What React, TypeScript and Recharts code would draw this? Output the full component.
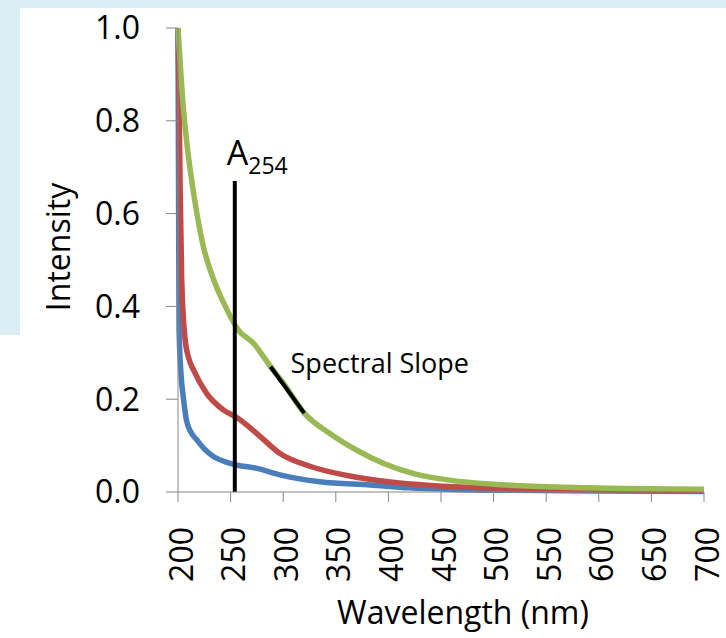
import React from "react";
import { LineChart, Line, XAxis, YAxis, ReferenceLine, ReferenceDot } from "recharts";

// wavelength ticks (nm) and intensity ticks
const xTicks = [200, 250, 300, 350, 400, 450, 500, 550, 600, 650, 700];
const yTicks = [0, 0.2, 0.4, 0.6, 0.8, 1.0];

// normalised absorbance spectra, three samples
const blueNm = [200, 201, 203, 205, 208, 212, 218, 225, 234, 245, 256, 275, 297, 335, 383, 420, 490, 600, 700];
const blueVals = [1.0, 0.35, 0.25, 0.205, 0.155, 0.13, 0.112, 0.093, 0.076, 0.065, 0.058, 0.051, 0.037, 0.022, 0.015, 0.009, 0.004, 0.002, 0.001];

const redNm = [200, 201, 202, 203.5, 206.7, 210, 215, 227, 243, 257, 275, 297, 326, 367, 400, 440, 490, 560, 700];
const redVals = [1.0, 0.85, 0.66, 0.46, 0.33, 0.29, 0.262, 0.213, 0.177, 0.159, 0.126, 0.083, 0.055, 0.033, 0.022, 0.014, 0.009, 0.005, 0.003];

const greenNm = [200, 205, 209, 213, 218, 224, 234, 245, 257, 272, 288, 300, 320, 345, 370, 395, 425, 460, 520, 590, 700];
const greenVals = [1.0, 0.83, 0.74, 0.672, 0.6, 0.53, 0.457, 0.4, 0.35, 0.32, 0.27, 0.235, 0.17, 0.125, 0.09, 0.062, 0.039, 0.025, 0.014, 0.009, 0.006];

// A254 marker and spectral-slope tangent
const a254 = 254;
const a254Top = 0.67;
const slopeStart = { x: 288, y: 0.27 };
const slopeEnd = { x: 320, y: 0.17 };

const rows = (nm: number[], vals: number[]) => nm.map((n, i) => ({ nm: n, v: vals[i] }));

const FONT = "'Open Sans', sans-serif";
const AXIS = "#868686";
const BG = "#DAEEF3";

function XTick(props: any) {
  const { x, y, payload } = props;
  return (
    <text x={x + 2} y={y} transform={`rotate(-90, ${x + 2}, ${y})`} textAnchor="end" dominantBaseline="central"
      fontSize={32} fontFamily={FONT} fill="#000">{payload.value}</text>
  );
}

export default function App() {
  return (
    <div style={{ position: "absolute", left: 0, top: 0, width: 726, height: 638, background: "#fff", overflow: "hidden" }}>
      <div style={{ position: "absolute", left: 0, top: 0, width: 726, height: 8, background: BG }} />
      <div style={{ position: "absolute", left: 0, top: 0, width: 20, height: 335, background: BG }} />
      <div style={{ position: "absolute", left: 0, top: 0 }}>
        <LineChart width={726} height={638} margin={{ top: 28, right: 22, bottom: 0, left: 0 }}>
          <XAxis type="number" dataKey="nm" domain={[200, 700]} ticks={xTicks} interval={0} height={146}
            stroke={AXIS} tickSize={10} tickMargin={25} tick={<XTick />}
            label={{ content: ({ viewBox }: any) => (
              <text x={viewBox.x + viewBox.width / 2 + 22} y={624} textAnchor="middle" fontSize={32} fontFamily={FONT} fill="#000">Wavelength (nm)</text>
            ) }} />
          <YAxis type="number" domain={[0, 1]} ticks={yTicks} interval={0} width={178}
            stroke={AXIS} tickSize={12} tickMargin={26} tickFormatter={(v: number) => v.toFixed(1)}
            tick={{ fontSize: 32, fontFamily: FONT, fill: "#000" }}
            label={{ content: () => (
              <text x={57} y={247} transform="rotate(-90, 57, 247)" textAnchor="middle" dominantBaseline="central" fontSize={32} fontFamily={FONT} fill="#000">Intensity</text>
            ) }} />
          <Line data={rows(blueNm, blueVals)} dataKey="v" type="monotone" stroke="#4A7EBB" strokeWidth={5.5} dot={false} isAnimationActive={false} />
          <Line data={rows(redNm, redVals)} dataKey="v" type="monotone" stroke="#BE4B48" strokeWidth={5.5} dot={false} isAnimationActive={false} />
          <Line data={rows(greenNm, greenVals)} dataKey="v" type="monotone" stroke="#98B954" strokeWidth={5.5} dot={false} isAnimationActive={false} />
          <ReferenceLine segment={[{ x: a254, y: 0 }, { x: a254, y: a254Top }]} stroke="#000" strokeWidth={4} />
          <ReferenceLine segment={[slopeStart, slopeEnd]} stroke="#000" strokeWidth={4} />
          <ReferenceDot x={a254} y={a254Top} r={0} shape={(p: any) => (
            <text x={p.cx - 8} y={p.cy - 16} fontFamily={FONT} fill="#000" fontSize={34}>
              A<tspan fontSize={23} dy={9}>254</tspan>
            </text>
          )} />
          <ReferenceDot x={slopeStart.x} y={slopeStart.y} r={0} shape={(p: any) => (
            <text x={p.cx + 20} y={p.cy + 6} fontFamily={FONT} fill="#000" fontSize={27}>Spectral Slope</text>
          )} />
        </LineChart>
      </div>
    </div>
  );
}
